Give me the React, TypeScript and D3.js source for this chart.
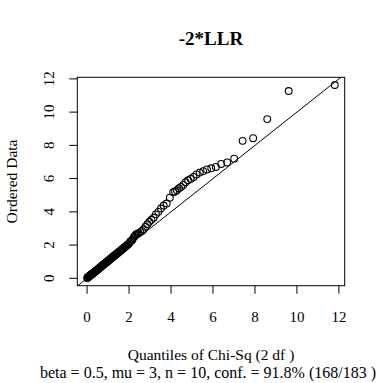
import React from "react";
import * as d3 from "d3";

// Theoretical chi-square (2 df) quantiles and ordered data
const chiSqQuantiles = [
  0.0055, 0.022, 0.0386, 0.055, 0.0722, 0.089, 0.1066, 0.124, 0.1416, 0.159,
  0.1772, 0.195, 0.2132, 0.231, 0.25, 0.268, 0.2874, 0.306, 0.3256, 0.345,
  0.3646, 0.384, 0.4044, 0.424, 0.445, 0.465, 0.4864, 0.507, 0.5286, 0.55,
  0.5718, 0.594, 0.6158, 0.638, 0.661, 0.684, 0.7072, 0.73, 0.7544, 0.778,
  0.8028, 0.827, 0.8524, 0.877, 0.9032, 0.929, 0.9554, 0.982, 1.009, 1.036,
  1.064, 1.092, 1.1206, 1.15, 1.179, 1.209, 1.239, 1.27, 1.3008, 1.333,
  1.3646, 1.397, 1.4306, 1.464, 1.4988, 1.534, 1.5694, 1.606, 1.6424, 1.68,
  1.7184, 1.757, 1.7974, 1.838, 1.8796, 1.922, 1.9654, 2.01,
  2.0548, 2.1, 2.1486, 2.197, 2.247, 2.298, 2.3506, 2.404, 2.4596, 2.5358,
  2.615, 2.6976, 2.7836, 2.8734, 2.9676, 3.0664, 3.1704, 3.28, 3.396, 3.519,
  3.6502, 3.7906, 3.9416, 4.105, 4.192, 4.2828, 4.3782, 4.4782, 4.5834, 4.6946,
  4.8122, 4.9374, 5.0708, 5.2136, 5.3676, 5.5344, 5.7162, 5.9164, 6.1388,
  6.3892, 6.6754, 7.0096, 7.4108, 7.9134, 8.5864, 9.608, 11.805,
];
const orderedData = [
  0.02, 0.04, 0.06, 0.075, 0.09, 0.11, 0.13, 0.15, 0.17, 0.185,
  0.2, 0.22, 0.24, 0.26, 0.28, 0.295, 0.31, 0.33, 0.35, 0.37,
  0.39, 0.41, 0.43, 0.45, 0.47, 0.49, 0.51, 0.53, 0.56, 0.58,
  0.6, 0.62, 0.65, 0.67, 0.7, 0.72, 0.75, 0.77, 0.8, 0.82,
  0.85, 0.87, 0.9, 0.92, 0.95, 0.97, 1.0, 1.03, 1.06, 1.09,
  1.12, 1.15, 1.18, 1.21, 1.24, 1.27, 1.3, 1.33, 1.36, 1.4,
  1.43, 1.46, 1.5, 1.53, 1.57, 1.6, 1.64, 1.68, 1.72, 1.76,
  1.8, 1.84, 1.88, 1.92, 1.97, 2.01, 2.06, 2.12,
  2.2, 2.26, 2.3, 2.42, 2.5, 2.6, 2.65, 2.68, 2.72, 2.78,
  2.85, 2.95, 3.1, 3.25, 3.4, 3.52, 3.65, 3.85, 4.0, 4.2,
  4.38, 4.5, 4.85, 5.18, 5.22, 5.3, 5.42, 5.5, 5.62, 5.78,
  5.9, 5.98, 6.1, 6.25, 6.36, 6.45, 6.55, 6.62, 6.7,
  6.88, 6.97, 7.2, 8.27, 8.43, 9.58, 11.27, 11.63,
];
const xTicks = [0, 2, 4, 6, 8, 10, 12];
const yTicks = [0, 2, 4, 6, 8, 10, 12];

const titleText = "-2*LLR";
const xLabel = "Quantiles of Chi-Sq (2 df )";
const yLabel = "Ordered Data";
const subText = "beta = 0.5, mu = 3, n = 10, conf. = 91.8% (168/183 )";

const W = 384;
const H = 383;
const left = 77.3;
const right = 344.7;
const top = 77.3;
const bottom = 285.7;
const font = "'Liberation Serif', 'DejaVu Serif', serif";

function extend(ext: [number, number]): [number, number] {
  const d = (ext[1] - ext[0]) * 0.04;
  return [ext[0] - d, ext[1] + d];
}

export default function App() {
  const xDom = extend(d3.extent(chiSqQuantiles) as [number, number]);
  const yDom = extend(d3.extent(orderedData) as [number, number]);
  const x = d3.scaleLinear().domain(xDom).range([left, right]);
  const y = d3.scaleLinear().domain(yDom).range([bottom, top]);

  const lo = Math.min(xDom[0], yDom[0]);
  const hi = Math.max(xDom[1], yDom[1]);
  const line = d3.line<number>().x((v) => x(v)).y((v) => y(v));

  return (
    <svg
      width={W}
      height={H}
      style={{ position: "absolute", left: 0, top: 0, background: "#fff" }}
      fontFamily={font}
    >
      <defs>
        <clipPath id="plotclip">
          <rect x={left} y={top} width={right - left} height={bottom - top} />
        </clipPath>
      </defs>
      <rect x={0} y={0} width={W} height={H} fill="#fff" />
      <text x={(left + right) / 2} y={45} textAnchor="middle" fontSize={19} fontWeight="bold">
        {titleText}
      </text>

      <g clipPath="url(#plotclip)">
        <path d={line([lo, hi]) || ""} stroke="#000" strokeWidth={1} fill="none" />
        {chiSqQuantiles.map((q, i) => (
          <circle key={i} cx={x(q)} cy={y(orderedData[i])} r={3.4} fill="none" stroke="#000" strokeWidth={1.1} />
        ))}
      </g>
      <rect x={left} y={top} width={right - left} height={bottom - top} fill="none" stroke="#000" strokeWidth={1} />

      {xTicks.map((t) => (
        <g key={"x" + t}>
          <line x1={x(t)} x2={x(t)} y1={bottom} y2={bottom + 8} stroke="#000" />
          <text x={x(t)} y={322} textAnchor="middle" fontSize={15}>
            {t}
          </text>
        </g>
      ))}
      {yTicks.map((t) => (
        <g key={"y" + t}>
          <line x1={left - 8} x2={left} y1={y(t)} y2={y(t)} stroke="#000" />
          <text transform={`translate(54,${y(t)}) rotate(-90)`} textAnchor="middle" fontSize={15}>
            {t}
          </text>
        </g>
      ))}

      <text x={(left + right) / 2} y={360} textAnchor="middle" fontSize={15.5}>
        {xLabel}
      </text>
      <text x={208} y={378} textAnchor="middle" fontSize={16}>
        {subText}
      </text>
      <text transform={`translate(17,${(top + bottom) / 2}) rotate(-90)`} textAnchor="middle" fontSize={15.5}>
        {yLabel}
      </text>
    </svg>
  );
}
